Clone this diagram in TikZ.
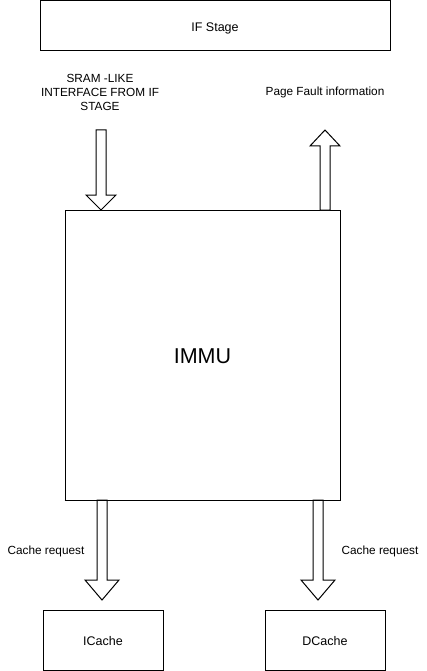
\documentclass[tikz,border=0pt]{standalone}
\usepackage{fontspec}
\setmainfont{Liberation Sans}
\newcommand\lowr[2]{\raisebox{-#1}[\height][\depth]{#2}}
\begin{document}
\begin{tikzpicture}[x=1pt,y=-1pt,
  box/.style={draw=black,line width=1pt,inner sep=0pt},
  lbl/.style={font=\fontsize{11.8}{14.2}\selectfont,align=center,inner sep=0pt},
  flexa/.style={draw=black,fill=white,line width=1pt,line join=miter}]
\useasboundingbox (0,0) rectangle (426,671);
\newcommand\flexarrow[6]{\draw[flexa] ({#1-#5},#2) -- ({#1-#5},#3) -- ({#1-#6},#3) -- (#1,#4) -- ({#1+#6},#3) -- ({#1+#5},#3) -- ({#1+#5},#2) -- cycle;}
\node[box,minimum width=350pt,minimum height=49.5pt,font=\fontsize{12.5}{14}\selectfont] (if) at (215,25.5) {\lowr{2.5pt}{IF Stage}};
\node[box,minimum width=275pt,minimum height=290pt,font=\fontsize{21.5}{24}\selectfont] (immu) at (202.5,355) {\lowr{1.5pt}{IMMU}};
\node[box,minimum width=120pt,minimum height=60pt,font=\fontsize{12.5}{14}\selectfont] (icache) at (103,640) {\lowr{1pt}{ICache}};
\node[box,minimum width=120pt,minimum height=60pt,font=\fontsize{12.5}{14}\selectfont] (dcache) at (325,640) {\lowr{1pt}{DCache}};
\node[lbl] (sram) at (100,92.5) {SRAM -LIKE\\INTERFACE FROM IF\\STAGE};
\node[lbl] (pf) at (325,92) {Page Fault information};
\node[lbl] (cr1) at (46,551.5) {Cache request};
\node[lbl] (cr2) at (380,551.5) {Cache request};
% flex arrows: cx, ytail, yheadbase, ytip, shaft half width, head half width
\flexarrow{101}{130}{195}{210}{5}{15}
\flexarrow{325}{210}{146}{130}{5}{15}
\flexarrow{102}{500}{580}{600}{5}{17}
\flexarrow{318}{500}{580}{600}{5}{17}
\draw[box] (immu.south west) -- (immu.south east);
\end{tikzpicture}
\end{document}
